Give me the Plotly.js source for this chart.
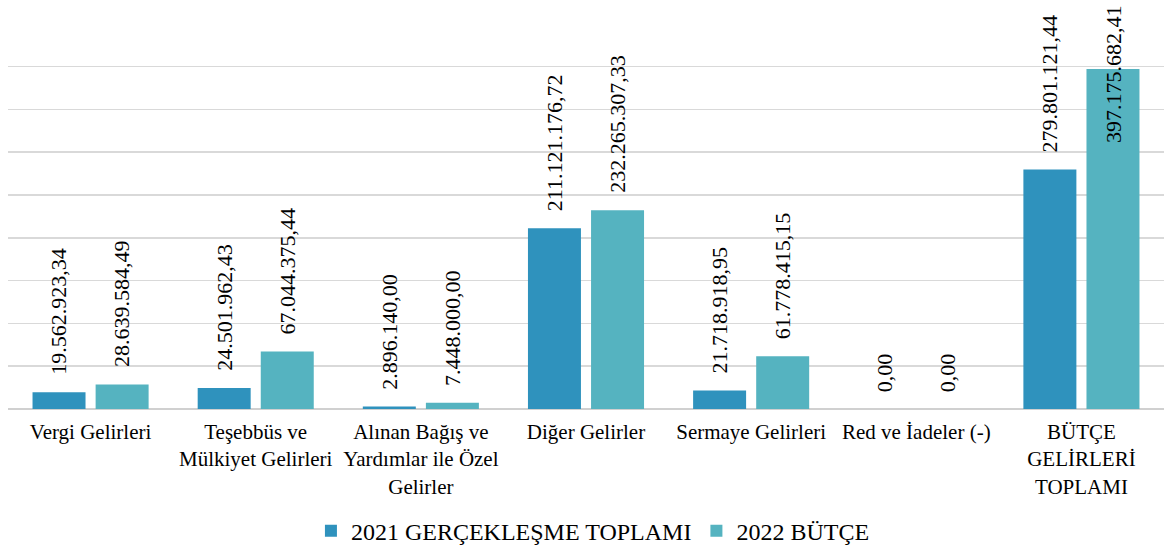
<!DOCTYPE html>
<html>
<head>
<meta charset="utf-8">
<script src="https://cdn.plot.ly/plotly-3.0.1.min.js"></script>
<style>html,body{margin:0;padding:0;background:#fff;}</style>
</head>
<body>
<div id="chart" style="width:1164px;height:550px;"></div>
<script>
const categories = [
  "Vergi Gelirleri",
  "Teşebbüs ve<br>Mülkiyet Gelirleri",
  "Alınan Bağış ve<br>Yardımlar ile Özel<br>Gelirler",
  "Diğer Gelirler",
  "Sermaye Gelirleri",
  "Red ve İadeler (-)",
  "BÜTÇE<br>GELİRLERİ<br>TOPLAMI"
];
const series2021 = [19562923.34, 24501962.43, 2896140.00, 211121176.72, 21718918.95, 0.00, 279801121.44];
const series2022 = [28639584.49, 67044375.44, 7448000.00, 232265307.33, 61778415.15, 0.00, 397175682.41];
const seriesNames = ["2021 GERÇEKLEŞME TOPLAMI", "2022 BÜTÇE"];
const seriesColors = ["#2f92bd", "#55b3c0"];

const FONT = "Liberation Serif";
const yMax = 451e6;
const plotTop = 23, plotBottom = 409;
const plotH = plotBottom - plotTop;
const bargap = 0.236, bargroupgap = 0.16;

function fmtTR(v) {
  const parts = v.toFixed(2).split(".");
  const intPart = parts[0].replace(/\B(?=(\d{3})+(?!\d))/g, ".");
  return intPart + "," + parts[1];
}

const idx = categories.map((_, i) => i);
const traces = [series2021, series2022].map((vals, s) => ({
  type: "bar",
  name: seriesNames[s],
  x: idx,
  y: vals,
  marker: { color: seriesColors[s], line: { width: 0 } },
  hoverinfo: "skip"
}));

const annotations = [];
const slot = (1 - bargap) / 2;
[series2021, series2022].forEach((vals, s) => {
  const off = (s === 0 ? -1 : 1) * slot / 2;
  vals.forEach((v, j) => {
    const txt = fmtTR(v);
    const estLen = txt.length * 10.7;
    const barTopPx = plotBottom - v / yMax * plotH;
    const labelTopPx = barTopPx - 17 - estLen;
    const base = {
      x: j + off, xref: "x",
      text: txt, textangle: -90, showarrow: false,
      font: { family: FONT, size: 22, color: "#000" },
      xanchor: "center"
    };
    if (labelTopPx < 2) {
      annotations.push(Object.assign(base, { yref: "paper", y: 1, yanchor: "top", yshift: plotTop - 3 }));
    } else {
      annotations.push(Object.assign(base, { yref: "y", y: v, yanchor: "bottom", yshift: 15 }));
    }
  });
});

const layout = {
  width: 1164, height: 550,
  margin: { l: 8, r: 0, t: plotTop, b: 550 - plotBottom, pad: 0, autoexpand: false },
  paper_bgcolor: "#fff", plot_bgcolor: "#fff",
  barmode: "group", bargap: bargap, bargroupgap: bargroupgap,
  font: { family: FONT, size: 21, color: "#000" },
  showlegend: true,
  legend: {
    orientation: "h", x: 0.506, xanchor: "center",
    yref: "container", y: 0.075, yanchor: "top",
    font: { family: FONT, size: 24, color: "#000" }, itemwidth: 30
  },
  xaxis: {
    range: [-0.5, 6.5], tickvals: idx, ticktext: categories, ticks: "",
    showgrid: false, zeroline: false, showline: false, ticklabelstandoff: 8,
    tickfont: { family: FONT, size: 21, color: "#000" }, fixedrange: true
  },
  yaxis: {
    range: [0, yMax], tick0: 0, dtick: 50e6, showticklabels: false, ticks: "",
    showgrid: true, gridcolor: "#d9d9d9", gridwidth: 1.5,
    zeroline: true, zerolinecolor: "#d0d0d0", zerolinewidth: 2, fixedrange: true
  },
  annotations: annotations
};

Plotly.newPlot("chart", traces, layout, { staticPlot: true, displayModeBar: false });
</script>
</body>
</html>
